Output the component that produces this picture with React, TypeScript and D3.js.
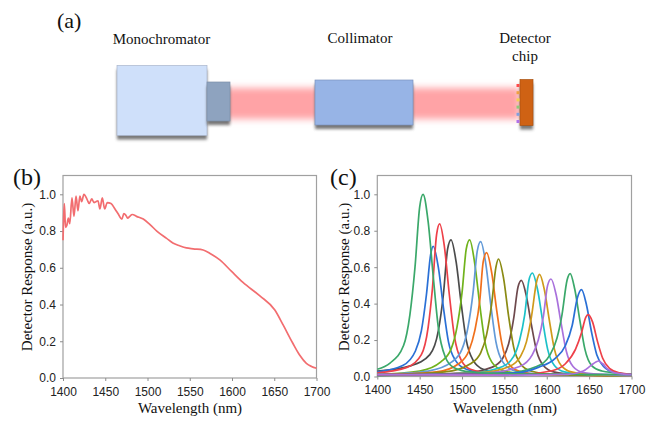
import * as d3 from "d3";
import React, { useEffect, useRef } from "react";

type Pt = [number, number];

const xTicks = [1400, 1450, 1500, 1550, 1600, 1650, 1700];
const yTicks = [0, 0.2, 0.4, 0.6, 0.8, 1.0];

// panel (b)
const broadband: Pt[] = [
  [1400, 0.75], [1400.7, 0.87], [1401.6, 0.95], [1403, 0.82], [1404.5, 0.83], [1406.3, 0.87], [1408, 0.84],
  [1410.6, 0.98], [1413, 0.88], [1415.4, 0.99], [1417.7, 0.91], [1420, 0.99], [1422, 0.96], [1424.8, 1.0],
  [1428.7, 0.97], [1431, 0.95], [1434, 0.975], [1436.7, 0.955], [1439, 0.96], [1441.4, 0.965], [1443.7, 0.92],
  [1446.5, 0.98], [1449.3, 0.92], [1452.4, 0.955], [1456.8, 0.95], [1461.5, 0.92], [1465, 0.895], [1469.7, 0.865],
  [1472, 0.895], [1474.5, 0.885], [1476.5, 0.87], [1479, 0.88], [1482, 0.89], [1487, 0.88], [1495, 0.865],
  [1503, 0.835], [1511, 0.8], [1522.6, 0.76], [1530, 0.735], [1538, 0.72], [1546, 0.708], [1554, 0.703],
  [1565.9, 0.697], [1575, 0.675], [1585.6, 0.643], [1599.5, 0.58], [1613, 0.52], [1633, 0.447], [1650.7, 0.37],
  [1660.5, 0.289], [1672, 0.189], [1680, 0.125], [1688, 0.08], [1694, 0.063], [1700, 0.053],
];

// panel (c), one list per detector pixel
const green1: Pt[] = [[1400, 0.04], [1415, 0.074], [1431, 0.17], [1438.5, 0.34], [1444.5, 0.6], [1450, 0.93], [1454, 1.0], [1460, 0.85], [1466, 0.55], [1472, 0.27], [1480, 0.11], [1490, 0.05], [1510, 0.025], [1550, 0.015], [1700, 0.01]];
const blue1: Pt[] = [[1400, 0.025], [1430, 0.06], [1445, 0.14], [1452, 0.25], [1458, 0.45], [1463, 0.67], [1466, 0.715], [1472, 0.6], [1478, 0.38], [1484, 0.19], [1492, 0.09], [1505, 0.04], [1530, 0.02], [1700, 0.01]];
const red1: Pt[] = [[1400, 0.02], [1435, 0.05], [1452, 0.12], [1460, 0.27], [1465, 0.48], [1470, 0.78], [1473.6, 0.838], [1479, 0.72], [1485, 0.45], [1491, 0.22], [1499, 0.09], [1510, 0.04], [1535, 0.02], [1700, 0.008]];
const black1: Pt[] = [[1400, 0.03], [1440, 0.06], [1462, 0.12], [1472, 0.25], [1478, 0.45], [1483, 0.7], [1487, 0.75], [1493, 0.63], [1499, 0.4], [1505, 0.2], [1513, 0.09], [1525, 0.04], [1550, 0.02], [1700, 0.008]];
const lime1: Pt[] = [[1400, 0.012], [1450, 0.03], [1475, 0.08], [1487, 0.15], [1494, 0.27], [1500, 0.46], [1505, 0.7], [1509, 0.75], [1515, 0.62], [1521, 0.39], [1527, 0.19], [1535, 0.08], [1547, 0.035], [1570, 0.015], [1700, 0.005]];
const skyBlue: Pt[] = [[1400, 0.01], [1460, 0.03], [1488, 0.08], [1500, 0.15], [1507, 0.27], [1513, 0.46], [1518, 0.69], [1522, 0.74], [1528, 0.62], [1534, 0.39], [1540, 0.19], [1548, 0.08], [1560, 0.035], [1585, 0.015], [1700, 0.005]];
const orange1: Pt[] = [[1400, 0.008], [1470, 0.025], [1496, 0.07], [1508, 0.14], [1515, 0.25], [1521, 0.42], [1525, 0.63], [1529, 0.68], [1535, 0.57], [1541, 0.36], [1547, 0.18], [1555, 0.07], [1567, 0.03], [1590, 0.012], [1700, 0.005]];
const olive1: Pt[] = [[1400, 0.008], [1480, 0.025], [1510, 0.07], [1522, 0.13], [1529, 0.23], [1535, 0.4], [1540, 0.6], [1543, 0.645], [1549, 0.54], [1555, 0.33], [1561, 0.16], [1569, 0.07], [1581, 0.03], [1605, 0.012], [1700, 0.005]];
const brown1: Pt[] = [[1400, 0.006], [1500, 0.018], [1535, 0.05], [1548, 0.1], [1555, 0.18], [1561, 0.32], [1566, 0.49], [1570, 0.528], [1576, 0.44], [1582, 0.28], [1588, 0.14], [1596, 0.06], [1608, 0.025], [1635, 0.01], [1700, 0.005]];
const cyan1: Pt[] = [[1400, 0.006], [1510, 0.018], [1548, 0.055], [1561, 0.11], [1568, 0.2], [1574, 0.34], [1579, 0.53], [1583, 0.568], [1589, 0.48], [1595, 0.31], [1601, 0.15], [1609, 0.06], [1621, 0.025], [1650, 0.01], [1700, 0.005]];
const gold1: Pt[] = [[1400, 0.006], [1520, 0.02], [1556, 0.055], [1569, 0.11], [1576, 0.19], [1582, 0.33], [1588, 0.52], [1591.5, 0.56], [1597, 0.48], [1603, 0.31], [1609, 0.15], [1617, 0.06], [1629, 0.025], [1655, 0.01], [1700, 0.005]];
const purple1: Pt[] = [[1400, 0.006], [1530, 0.02], [1568, 0.055], [1583, 0.12], [1590, 0.2], [1596, 0.33], [1601, 0.5], [1605, 0.535], [1611, 0.45], [1617, 0.29], [1623, 0.14], [1631, 0.055], [1643, 0.022], [1670, 0.01], [1700, 0.005]];
const green2: Pt[] = [[1400, 0.006], [1550, 0.018], [1588, 0.055], [1604, 0.12], [1612, 0.21], [1618, 0.34], [1624, 0.53], [1627.6, 0.565], [1633, 0.48], [1639, 0.31], [1645, 0.15], [1653, 0.06], [1665, 0.03], [1680, 0.02], [1700, 0.01]];
const blue2: Pt[] = [[1400, 0.01], [1560, 0.018], [1590, 0.05], [1610, 0.1], [1622, 0.17], [1630, 0.28], [1636, 0.43], [1641, 0.477], [1647, 0.39], [1653, 0.24], [1659, 0.12], [1667, 0.055], [1680, 0.022], [1700, 0.012]];
const red2: Pt[] = [[1400, 0.01], [1570, 0.012], [1605, 0.03], [1622, 0.07], [1634, 0.15], [1641, 0.24], [1646, 0.325], [1649, 0.34], [1654, 0.3], [1660, 0.19], [1666, 0.1], [1674, 0.045], [1686, 0.02], [1700, 0.012]];
const purple2: Pt[] = [[1400, 0.01], [1560, 0.008], [1625, 0.012], [1643, 0.03], [1652, 0.06], [1658, 0.08], [1661, 0.085], [1666, 0.07], [1672, 0.04], [1680, 0.02], [1700, 0.01]];

const spectra = [brown1, black1, blue1, red1, lime1, skyBlue, orange1, olive1, cyan1, gold1, purple1, green2, blue2, red2, green1, purple2];
const spectraColors = ["#6e4a4e", "#4c4c4c", "#2b70d6", "#ee4048", "#70b31c", "#639ad8", "#f06f1c", "#8a8a12", "#1fc1c9", "#cf9a1a", "#a971dc", "#3aa86a", "#2b70d6", "#ee4048", "#3aa86a", "#a971dc"];

const dotColors = ["#ff4a4a", "#f0a040", "#f5d050", "#90c878", "#80a0e0", "#b070e8"];

const panelB = { left: 63, right: 316.5, top: 175.5, bottom: 378, zero: 378, one: 194.3 };
const panelC = { left: 377.3, right: 631.5, top: 175.5, bottom: 376.5, zero: 376.5, one: 194.3 };

function Panel({ box, series, colors, width }: { box: typeof panelB; series: Pt[][]; colors: string[]; width: number }) {
  const xRef = useRef<SVGGElement>(null);
  const yRef = useRef<SVGGElement>(null);
  const x = d3.scaleLinear().domain([1400, 1700]).range([box.left, box.right]);
  const y = d3.scaleLinear().domain([0, 1]).range([box.zero, box.one]);
  const line = d3.line<Pt>().x((d) => x(d[0])).y((d) => y(d[1])).curve(d3.curveMonotoneX);

  useEffect(() => {
    const xAxis = d3.axisBottom(x).tickValues(xTicks).tickSize(3).tickPadding(6).tickFormat(d3.format("d") as any);
    const yAxis = d3.axisLeft(y).tickValues(yTicks).tickSize(3).tickPadding(4).tickFormat(d3.format(".1f") as any);
    for (const [ref, axis] of [[xRef, xAxis], [yRef, yAxis]] as any) {
      const g = d3.select(ref.current).call(axis);
      g.select(".domain").remove();
      g.selectAll("line").attr("stroke", "#8c8c8c");
      g.selectAll("text").attr("fill", "#222").style("font-family", "'Liberation Sans'").style("font-size", "12px");
    }
  });

  return (
    <g>
      <rect x={box.left} y={box.top} width={box.right - box.left} height={box.bottom - box.top} fill="white" stroke="#a0a0a0" strokeWidth={1.2} />
      <g ref={xRef} transform={`translate(0,${box.bottom})`} />
      <g ref={yRef} transform={`translate(${box.left},0)`} />
      <g filter="url(#soft)">
        {series.map((s, i) => (
          <path key={i} d={line(s) ?? ""} fill="none" stroke={colors[i]} strokeWidth={width} />
        ))}
      </g>
    </g>
  );
}

const serif = { fontFamily: "'Liberation Serif'", fill: "#111" };

function Box({ x, y, w, h, fill, stroke }: { x: number; y: number; w: number; h: number; fill: string; stroke: string }) {
  return (
    <g>
      <rect x={x} y={y + 4} width={w} height={h} fill="#555" opacity={0.8} filter="url(#shadow)" />
      <rect x={x} y={y} width={w} height={h} fill={fill} stroke={stroke} strokeWidth={0.7} />
    </g>
  );
}

export default function App() {
  return (
    <svg width={655} height={421} style={{ position: "absolute", left: 0, top: 0, background: "white" }}>
      <defs>
        <filter id="soft"><feGaussianBlur stdDeviation={0.35} /></filter>
        <filter id="shadow" x="-20%" y="-20%" width="140%" height="140%"><feGaussianBlur stdDeviation={1.6} /></filter>
        <filter id="beam" x="-10%" y="-40%" width="120%" height="180%"><feGaussianBlur stdDeviation={3.5} /></filter>
      </defs>

      <text x={57} y={28} fontSize={22} style={serif}>(a)</text>
      <text x={161.5} y={44} fontSize={15} textAnchor="middle" style={serif}>Monochromator</text>
      <text x={360} y={43} fontSize={15} textAnchor="middle" style={serif}>Collimator</text>
      <text x={525} y={43} fontSize={15} textAnchor="middle" style={serif}>Detector</text>
      <text x={525} y={61} fontSize={15} textAnchor="middle" style={serif}>chip</text>

      <rect x={225} y={88} width={95} height={31} fill="#ffa3a6" filter="url(#beam)" />
      <rect x={408} y={88} width={112} height={31} fill="#ffa3a6" filter="url(#beam)" />
      <Box x={117} y={65.5} w={90} h={70} fill="#cfe0fa" stroke="#a9b6cc" />
      <Box x={207} y={82} w={23} h={39} fill="#8ea3bf" stroke="#7d8fa8" />
      <Box x={315} y={80} w={98} h={45} fill="#97b4e6" stroke="#7c93bd" />
      <Box x={520} y={79.5} w={13} h={46} fill="#cf6214" stroke="#a85210" />
      {dotColors.map((c, i) => (
        <rect key={c} x={516.5} y={84 + i * 7.2} width={3} height={3} fill={c} />
      ))}

      <Panel box={panelB} series={[broadband]} colors={["#f26d6f"]} width={1.7} />
      <Panel box={panelC} series={spectra} colors={spectraColors} width={1.7} />

      <text x={13} y={185} fontSize={24} style={serif}>(b)</text>
      <text x={330} y={185} fontSize={24} style={serif}>(c)</text>
      <text x={190} y={413} fontSize={15} textAnchor="middle" style={serif}>Wavelength (nm)</text>
      <text x={505} y={413} fontSize={15} textAnchor="middle" style={serif}>Wavelength (nm)</text>
      <text transform="translate(32,277) rotate(-90)" fontSize={15} textAnchor="middle" style={serif}>Detector Response (a.u.)</text>
      <text transform="translate(349,277) rotate(-90)" fontSize={15} textAnchor="middle" style={serif}>Detector Response (a.u.)</text>
    </svg>
  );
}
